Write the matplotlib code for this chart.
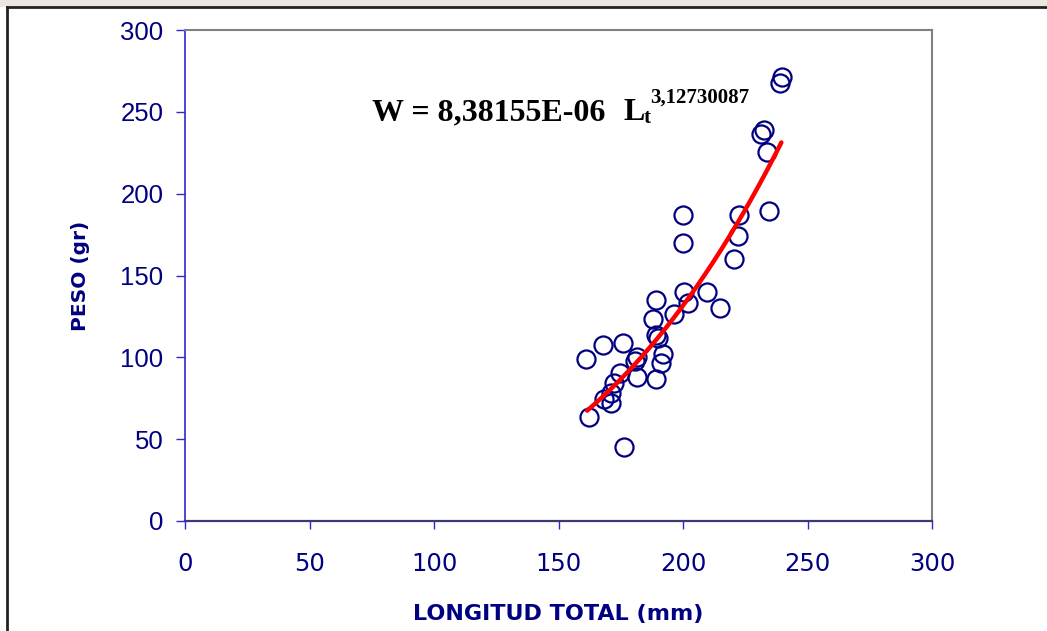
import numpy as np
import matplotlib

matplotlib.use("Agg")
import matplotlib.pyplot as plt
from matplotlib.patches import Rectangle
from matplotlib.lines import Line2D

# Longitud total (mm) y peso (gr)
longitud = [239.6, 238.8, 232.7, 231.5, 233.9, 234.7, 222.6, 200.1, 200.1,
            222.2, 220.6, 200.5, 209.8, 202.1, 215.0, 189.3, 196.5, 188.1,
            189.3, 190.1, 192.1, 191.3, 189.3, 181.6, 180.8, 181.6, 175.9,
            167.8, 161.1, 174.5, 172.4, 171.2, 168.4, 171.2, 162.3, 176.4]
peso = [271.2, 267.6, 238.8, 236.3, 225.3, 189.2, 186.7, 186.7, 169.6,
        173.9, 159.8, 140.2, 140.2, 132.9, 130.4, 135.3, 126.7, 123.7,
        113.9, 112.0, 102.2, 96.7, 86.9, 100.4, 98.0, 88.2, 109.0,
        107.8, 99.2, 90.6, 84.5, 78.4, 74.7, 72.2, 63.7, 45.3]

# W = a * L^b
coef_a = 8.38155e-06
coef_b = 3.12730087
curve_range = (161.5, 239.5)

xticks = [0, 50, 100, 150, 200, 250, 300]
yticks = [0, 50, 100, 150, 200, 250, 300]

navy = "#000080"

fig = plt.figure(figsize=(10.47, 6.31), dpi=100)
# outer frame and faded strip at the top
fig.patches.append(Rectangle((0, 1 - 7 / 631), 1, 7 / 631, transform=fig.transFigure,
                             facecolor="#ebe7de", edgecolor="none", zorder=0))
fig.lines.append(Line2D([7 / 1047, 7 / 1047], [0, 1 - 7 / 631], transform=fig.transFigure,
                        color="#222222", lw=2))
fig.lines.append(Line2D([7 / 1047, 1], [1 - 7 / 631, 1 - 7 / 631], transform=fig.transFigure,
                        color="#222222", lw=2))

ax = fig.add_axes([185 / 1047, 1 - 521 / 631, (932 - 185) / 1047, (521 - 30) / 631])

lx = np.linspace(curve_range[0], curve_range[1], 200)
ax.plot(lx, coef_a * lx ** coef_b, color="#ff0000", lw=3.2, zorder=3,
        solid_capstyle="round")
ax.plot(longitud, peso, linestyle="none", marker="o", markersize=13,
        markerfacecolor="none", markeredgecolor=navy, markeredgewidth=1.6, zorder=2)

ax.set_xlim(0, 300)
ax.set_ylim(0, 300)
ax.set_xticks(xticks)
ax.set_yticks(yticks)

for side in ("top", "right"):
    ax.spines[side].set_color("#808080")
    ax.spines[side].set_linewidth(1.5)
ax.spines["left"].set_color("#2a2ad0")
ax.spines["left"].set_linewidth(1.2)
ax.spines["bottom"].set_color("#3a3a70")
ax.spines["bottom"].set_linewidth(1.6)

ax.tick_params(axis="y", direction="out", length=6.5, width=1, color="#2a2ad0",
               pad=9, labelsize=18.5, labelcolor=navy)
ax.tick_params(axis="x", direction="out", length=6, width=1, color="#2a2ad0",
               pad=16, labelsize=17.5, labelcolor=navy)
for lab in ax.get_yticklabels():
    lab.set_family("Liberation Sans")
for lab in ax.get_xticklabels():
    lab.set_family("DejaVu Sans")

ax.set_xlabel("LONGITUD TOTAL (mm)", fontsize=16, fontweight="bold", color=navy,
              family="DejaVu Sans")
ax.xaxis.set_label_coords(0.5, -0.17)
ax.set_ylabel("PESO (gr)", fontsize=14.5, fontweight="bold", color=navy,
              family="DejaVu Sans")
ax.yaxis.set_label_coords(-(185 - 90) / 747, 0.5)

# ecuacion del ajuste
serif = "Liberation Serif"
ax.text(75.3, 245.0, "W = 8,38155E-06", fontsize=23, fontweight="bold",
        family=serif, va="baseline", ha="left")
ax.text(176.0, 245.0, "L", fontsize=23, fontweight="bold", family=serif,
        va="baseline", ha="left")
ax.text(184.2, 243.2, "t", fontsize=15, fontweight="bold", family=serif,
        va="baseline", ha="left")
ax.text(186.8, 255.5, "3,12730087", fontsize=15, fontweight="bold", family=serif,
        va="baseline", ha="left")

fig.savefig("out.png", dpi=100)
